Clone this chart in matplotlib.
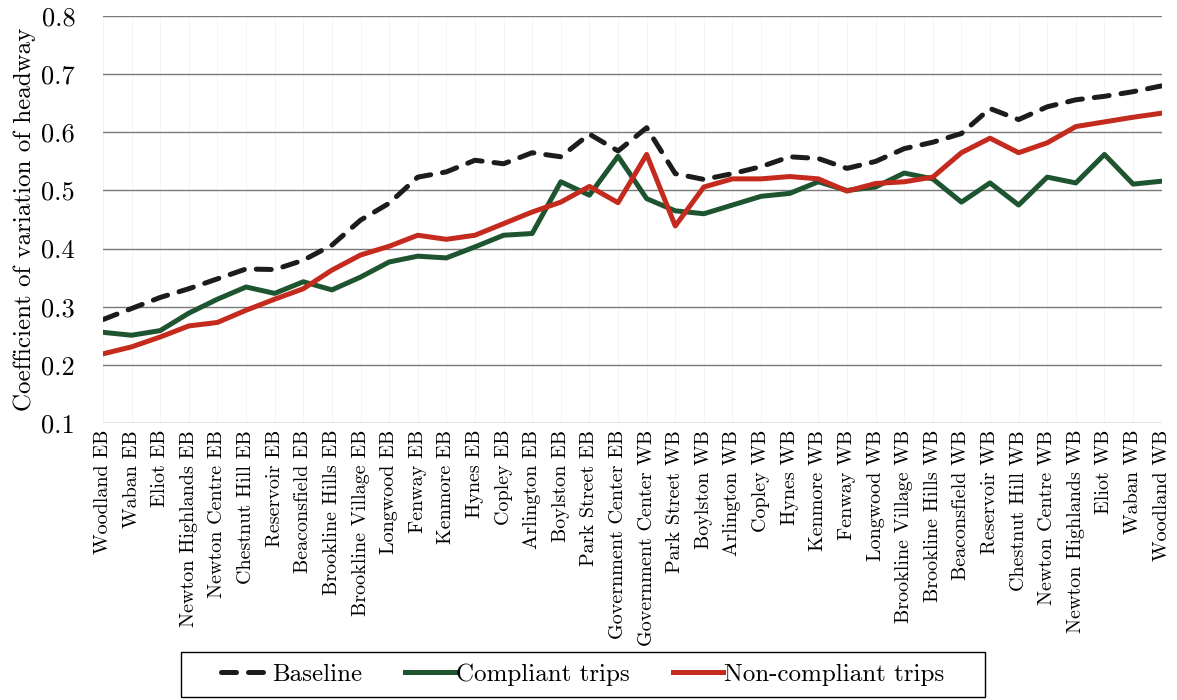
import matplotlib
matplotlib.use("Agg")
import matplotlib.pyplot as plt
from matplotlib.patches import Rectangle

plt.rcParams['font.family'] = ['cmr10', 'DejaVu Serif']
plt.rcParams['axes.unicode_minus'] = False
plt.rcParams['axes.formatter.use_mathtext'] = True

stations = ["Woodland EB", "Waban EB", "Eliot EB", "Newton Highlands EB", "Newton Centre EB",
            "Chestnut Hill EB", "Reservoir EB", "Beaconsfield EB", "Brookline Hills EB",
            "Brookline Village EB", "Longwood EB", "Fenway EB", "Kenmore EB", "Hynes EB",
            "Copley EB", "Arlington EB", "Boylston EB", "Park Street EB", "Government Center EB",
            "Government Center WB", "Park Street WB", "Boylston WB", "Arlington WB", "Copley WB",
            "Hynes WB", "Kenmore WB", "Fenway WB", "Longwood WB", "Brookline Village WB",
            "Brookline Hills WB", "Beaconsfield WB", "Reservoir WB", "Chestnut Hill WB",
            "Newton Centre WB", "Newton Highlands WB", "Eliot WB", "Waban WB", "Woodland WB"]

baseline = [0.278, 0.297, 0.316, 0.331, 0.348, 0.365, 0.364, 0.380, 0.406, 0.449,
            0.478, 0.523, 0.532, 0.552, 0.546, 0.565, 0.558, 0.597, 0.568, 0.608,
            0.529, 0.519, 0.529, 0.541, 0.558, 0.555, 0.538, 0.550, 0.572, 0.583,
            0.598, 0.641, 0.622, 0.644, 0.656, 0.662, 0.670, 0.680]

compliant = [0.256, 0.251, 0.259, 0.289, 0.313, 0.334, 0.323, 0.343, 0.329, 0.351,
             0.377, 0.387, 0.384, 0.403, 0.423, 0.426, 0.515, 0.492, 0.559, 0.486,
             0.465, 0.460, 0.475, 0.490, 0.495, 0.515, 0.500, 0.506, 0.530, 0.520,
             0.480, 0.513, 0.475, 0.523, 0.513, 0.562, 0.511, 0.516]

noncompliant = [0.219, 0.231, 0.248, 0.267, 0.273, 0.294, 0.313, 0.331, 0.363, 0.389,
                0.404, 0.423, 0.416, 0.423, 0.443, 0.463, 0.480, 0.507, 0.479, 0.562,
                0.439, 0.506, 0.520, 0.520, 0.524, 0.520, 0.499, 0.512, 0.515, 0.523,
                0.565, 0.590, 0.565, 0.582, 0.610, 0.618, 0.626, 0.633]

yticks = [0.1, 0.2, 0.3, 0.4, 0.5, 0.6, 0.7, 0.8]
ytick_labels = ['0.1', '0.2', '0.3', '0.4', '0.5', '0.6', '0.7', '0.8']

fig = plt.figure(figsize=(11.77, 7.0), dpi=100)
ax = fig.add_axes([0.0875, 0.3957, 0.8995, 0.5813])

x = list(range(len(stations)))
for xi in x:
    ax.axvline(xi, color='#f3f3f3', lw=0.6, zorder=0)

l1, = ax.plot(x, baseline, color='#1c1c1c', lw=3.6, linestyle=(0, (3.0, 2.4)),
              dash_capstyle='round', label='Baseline', zorder=4)
l2, = ax.plot(x, compliant, color='#1e5530', lw=3.6, label='Compliant trips', zorder=3)
l3, = ax.plot(x, noncompliant, color='#c42a1e', lw=3.6, label='Non-compliant trips', zorder=3)

ax.set_xlim(0, len(stations) - 1)
ax.set_ylim(0.1, 0.8)
ax.set_yticks(yticks)
ax.set_yticklabels(ytick_labels, fontsize=19)
ax.yaxis.grid(True, color='#7a7a7a', lw=1.0)
ax.set_axisbelow(True)
ax.set_xticks(x)
ax.set_xticklabels(stations, rotation=90, fontsize=14.5)
ax.tick_params(axis='x', length=0, pad=5)
ax.tick_params(axis='y', length=0, pad=20)
for s in ax.spines.values():
    s.set_visible(False)
ax.set_ylabel('Coefficient of variation of headway', fontsize=18, labelpad=4)

# legend frame (drawn separately for wider horizontal padding)
fig.patches.append(Rectangle((181 / 1177, 1 - 697 / 700), (985 - 181) / 1177, 45 / 700,
                             transform=fig.transFigure, fill=False, edgecolor='black',
                             lw=1.0, zorder=5))
leg = fig.legend(handles=[l1, l2, l3], loc='center', bbox_to_anchor=(0.495, 0.036),
                 ncol=3, fontsize=18, frameon=False,
                 handlelength=2.0, handletextpad=0.05, columnspacing=1.7,
                 borderpad=0.3, borderaxespad=0)

fig.savefig('out.png', dpi=100)
